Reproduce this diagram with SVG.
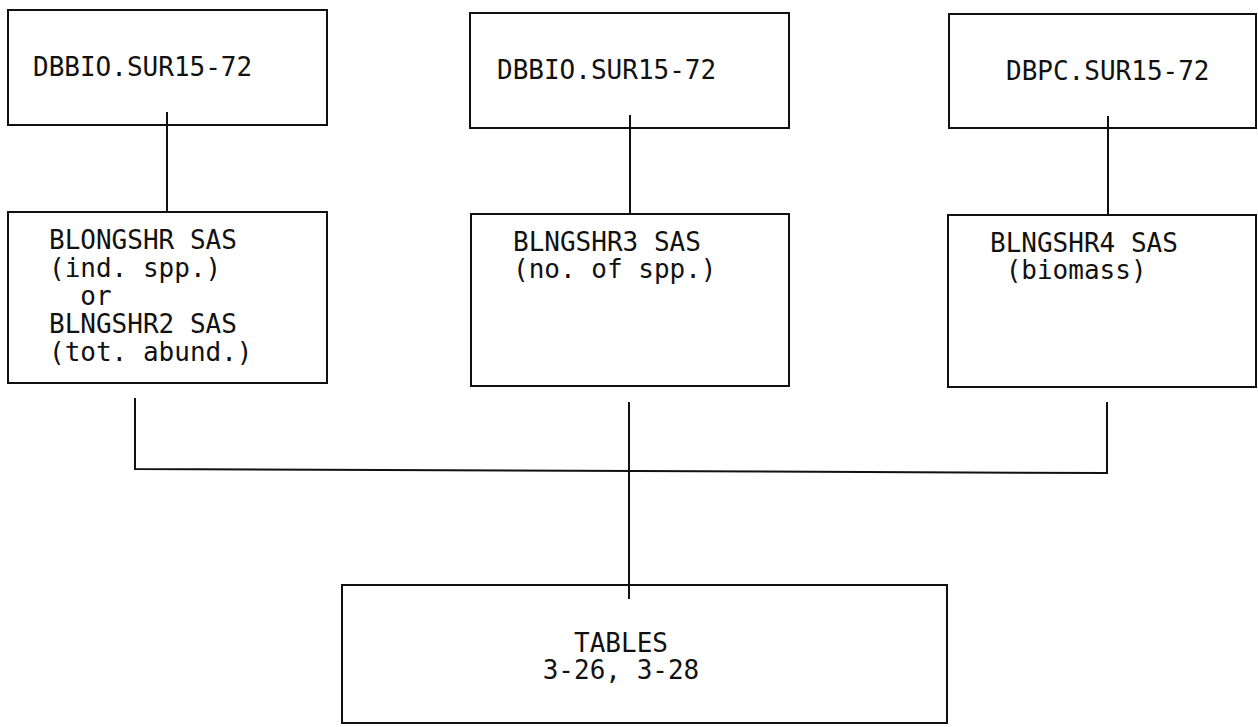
<svg xmlns="http://www.w3.org/2000/svg" width="1258" height="727" viewBox="0 0 1258 727">
<style>
.box{fill:none;stroke:#111;stroke-width:2}
.lbl{font-family:"DejaVu Sans Mono","Liberation Mono",monospace;font-size:26px;fill:#111;white-space:pre}
.con{fill:none;stroke:#111;stroke-width:2}
</style>
<rect width="1258" height="727" fill="#fff"/>
<g id="connectors">
<line class="con" x1="167" y1="112" x2="167" y2="212"/>
<line class="con" x1="630" y1="115" x2="630" y2="214"/>
<line class="con" x1="1108" y1="116" x2="1108" y2="215"/>
<polyline class="con" points="135,398 135,469 1107,473 1107,402"/>
<line class="con" x1="629" y1="402" x2="629" y2="599"/>
</g>
<g id="n1">
<rect class="box" x="8" y="10" width="319" height="115"/>
<text class="lbl" x="33" y="76">DBBIO.SUR15-72</text>
</g>
<g id="n2">
<rect class="box" x="470" y="13" width="319" height="115"/>
<text class="lbl" x="497" y="79">DBBIO.SUR15-72</text>
</g>
<g id="n3">
<rect class="box" x="949" y="14" width="307" height="114"/>
<text class="lbl" x="1006" y="80">DBPC.SUR15-72</text>
</g>
<g id="n4">
<rect class="box" x="8" y="212" width="319" height="171"/>
<text class="lbl" x="49" y="249">BLONGSHR SAS</text>
<text class="lbl" x="49" y="277">(ind. spp.)</text>
<text class="lbl" x="49" y="305">  or</text>
<text class="lbl" x="49" y="333">BLNGSHR2 SAS</text>
<text class="lbl" x="49" y="361">(tot. abund.)</text>
</g>
<g id="n5">
<rect class="box" x="471" y="214" width="318" height="172"/>
<text class="lbl" x="513" y="251">BLNGSHR3 SAS</text>
<text class="lbl" x="513" y="278">(no. of spp.)</text>
</g>
<g id="n6">
<rect class="box" x="948" y="215" width="308" height="172"/>
<text class="lbl" x="990" y="252">BLNGSHR4 SAS</text>
<text class="lbl" x="990" y="279"> (biomass)</text>
</g>
<g id="n7">
<rect class="box" x="342" y="585" width="605" height="138"/>
<text class="lbl" x="621" y="652" text-anchor="middle">TABLES</text>
<text class="lbl" x="621" y="679" text-anchor="middle">3-26, 3-28</text>
</g>
</svg>
